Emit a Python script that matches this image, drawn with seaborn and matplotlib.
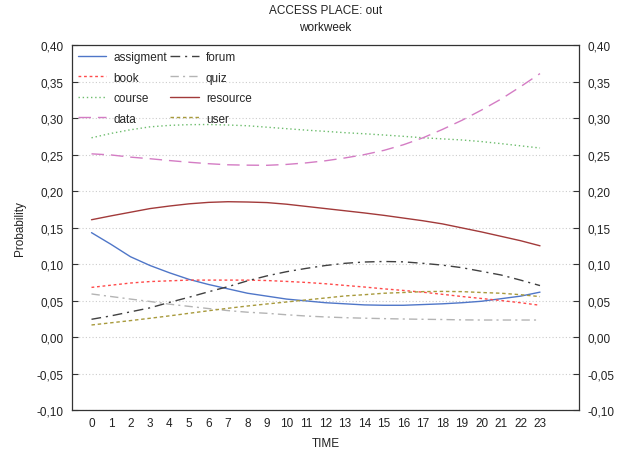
import numpy as np
import pandas as pd
import matplotlib
matplotlib.use("Agg")
import matplotlib.pyplot as plt
import seaborn as sns
from matplotlib.ticker import FixedLocator, FuncFormatter

hours = list(range(24))
assigment = [.143, .127, .110, .098, .088, .079, .072, .066, .060, .056, .052, .0495,
             .047, .0455, .044, .0435, .0435, .0445, .0455, .047, .049, .0525, .056, .0615]
book = [.068, .071, .074, .076, .077, .078, .078, .078, .078, .0774, .0762, .0748,
        .073, .0707, .0685, .066, .0638, .0614, .0585, .0555, .0528, .050, .047, .0435]
course = [.273, .279, .284, .288, .290, .291, .2912, .2905, .2895, .2875, .2855, .2835,
          .2818, .280, .2785, .2768, .275, .273, .2715, .270, .2678, .265, .262, .259]
data = [.251, .2495, .2465, .2443, .2418, .2395, .2375, .236, .2355, .2353, .2365, .2386,
        .2415, .2454, .250, .2558, .2635, .273, .2845, .297, .311, .326, .343, .361]
forum = [.0243, .029, .0345, .040, .0475, .0545, .062, .069, .077, .0838, .0895, .094,
         .098, .101, .1028, .1035, .103, .101, .0985, .095, .090, .085, .078, .0705]
quiz = [.059, .0555, .052, .0487, .045, .042, .039, .0362, .034, .0325, .0305, .0288,
        .0275, .0265, .0258, .0252, .0247, .0243, .024, .0235, .0233, .0233, .0233, .0233]
resource = [.1607, .166, .171, .176, .1795, .1825, .1845, .1854, .185, .1842, .182, .179,
            .176, .173, .170, .1667, .163, .1593, .155, .1495, .144, .138, .132, .125]
user = [.0165, .0195, .0225, .0257, .029, .0325, .036, .0394, .0425, .0453, .048, .0508,
        .0535, .0563, .058, .060, .061, .0622, .0625, .0622, .061, .060, .058, .0554]

series_names = ["assigment", "book", "course", "data", "forum", "quiz", "resource", "user"]
series_vals = [assigment, book, course, data, forum, quiz, resource, user]
y_ticks = [-0.10, -0.05, 0.00, 0.05, 0.10, 0.15, 0.20, 0.25, 0.30, 0.35, 0.40]

rows = []
for name, vals in zip(series_names, series_vals):
    for h, v in zip(hours, vals):
        rows.append({"TIME": h, "Probability": v, "series": name})
df = pd.DataFrame(rows)

sns.set_style("white")
plt.rcParams["font.family"] = ["Liberation Sans", "DejaVu Sans"]

palette = {
    "assigment": "#4f76c8",
    "book": "#ff4a4a",
    "course": "#6dbd6d",
    "data": "#d47cc4",
    "forum": "#404040",
    "quiz": "#b4b4b4",
    "resource": "#a23a3a",
    "user": "#a89a3c",
}
dashes = {
    "assigment": "",
    "book": (2, 2),
    "course": (1, 2),
    "data": (9, 5),
    "forum": (7, 3.5, 1.5, 3.5),
    "quiz": (6, 3, 1.5, 3),
    "resource": "",
    "user": (2.5, 2),
}

fig = plt.figure(figsize=(6.31, 4.52), dpi=100)
ax = fig.add_axes([0.1141, 0.0907, 0.8035, 0.8073])

sns.lineplot(data=df, x="TIME", y="Probability", hue="series", style="series",
             palette=palette, dashes=dashes, hue_order=series_names,
             style_order=series_names, linewidth=1.0, ax=ax, legend=True)

ax.set_xlim(-1, 25)
ax.set_ylim(-0.10, 0.40)

ax.xaxis.set_major_locator(FixedLocator(hours))
ax.xaxis.set_minor_locator(FixedLocator([h for h in hours if h % 2 == 1]))
ax.set_xticklabels([str(h) for h in hours])
ax.yaxis.set_major_locator(FixedLocator(y_ticks))
ax.yaxis.set_major_formatter(FuncFormatter(lambda v, p: f"{v:.2f}".replace(".", ",")))

ax.tick_params(axis="x", which="major", length=0, labelsize=8.5, pad=5, colors="#222222")
ax.tick_params(axis="x", which="minor", direction="in", length=4, top=True, bottom=True,
               color="#333333")
ax.tick_params(axis="y", which="major", direction="in", length=4, left=True, right=True,
               labelleft=True, labelright=True, labelsize=8.5, pad=6, colors="#222222")
ax.tick_params(axis="y", which="major", color="#333333")

ax.grid(False)
ax.grid(True, which="minor", axis="x", linestyle=(0, (1, 2)), color="#cccccc", linewidth=0.8)
ax.grid(True, which="major", axis="y", linestyle=(0, (1, 2)), color="#cccccc", linewidth=0.8)

for s in ax.spines.values():
    s.set_color("#333333")
    s.set_linewidth(0.9)

ax.set_xlabel("TIME", fontsize=8.5, labelpad=6, color="#222222")
ax.set_ylabel("Probability", fontsize=8.5, labelpad=8, color="#222222")
ax.set_title("ACCESS PLACE: out\nworkweek", fontsize=8.5, pad=11, color="#222222",
             linespacing=1.5)

handles, labels = ax.get_legend_handles_labels()
ax.legend(handles, labels, ncol=2, loc="upper left", frameon=False, fontsize=8.5,
          handlelength=2.4, columnspacing=0.3, labelspacing=0.72, handletextpad=0.6,
          borderaxespad=0.1)

fig.savefig("out.png", dpi=100)
